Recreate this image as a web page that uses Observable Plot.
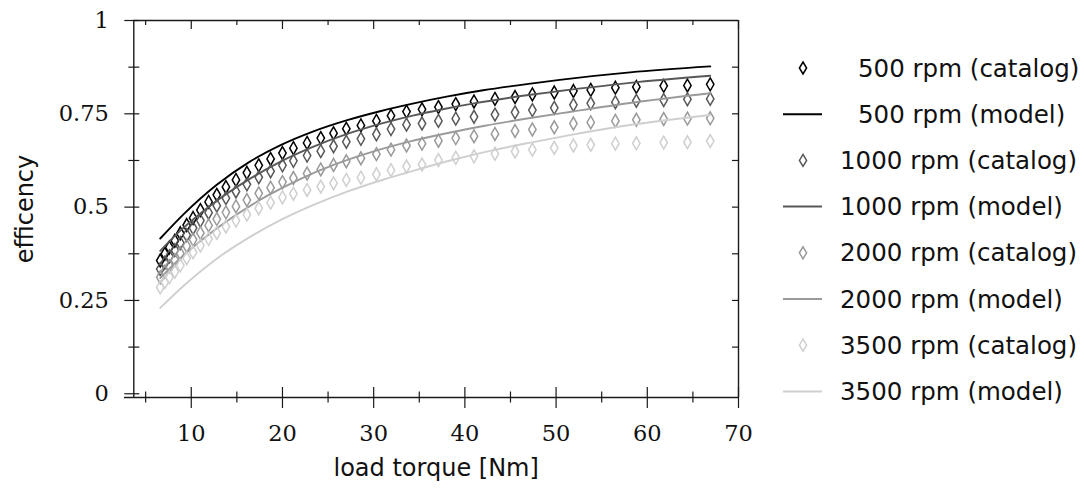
<!DOCTYPE html>
<html><head><meta charset="utf-8">
<script src="https://cdn.jsdelivr.net/npm/d3@7"></script>
<script src="https://cdn.jsdelivr.net/npm/@observablehq/plot@0.6"></script>
<style>
body{margin:0;background:#fff;}
#wrap{position:relative;width:1084px;height:488px;overflow:hidden;}
#chart{position:absolute;left:0;top:0;}
#legend{position:absolute;left:0;top:0;}
</style></head><body>
<div id="wrap"><div id="chart"></div><svg id="legend" width="1084" height="488"></svg></div>
<script>
// ---- data ----
const seriesNames = ["500 rpm", "1000 rpm", "2000 rpm", "3500 rpm"];
const seriesColors = ["#000000", "#585858", "#9a9a9a", "#cfcfcf"];

const catalogTorque = [6.6, 7.1, 7.6, 8.2, 8.8, 9.5, 10.2, 11.0, 11.9, 12.8, 13.8, 14.9, 16.1, 17.4, 18.7, 20.0, 21.2, 22.7, 24.2, 25.6, 27.0, 28.6, 30.3, 31.9, 33.6, 35.3, 37.1, 39.0, 41.0, 43.3, 45.5, 47.4, 49.8, 51.9, 53.8, 56.5, 58.8, 61.8, 64.4, 66.9];
const catalog500 = [0.357, 0.375, 0.392, 0.410, 0.430, 0.452, 0.471, 0.492, 0.514, 0.533, 0.554, 0.573, 0.592, 0.612, 0.629, 0.645, 0.658, 0.672, 0.685, 0.698, 0.710, 0.719, 0.731, 0.745, 0.756, 0.762, 0.768, 0.776, 0.783, 0.790, 0.795, 0.802, 0.807, 0.811, 0.814, 0.820, 0.822, 0.825, 0.826, 0.829];
const catalog1000 = [0.334, 0.351, 0.368, 0.385, 0.404, 0.425, 0.444, 0.464, 0.485, 0.504, 0.524, 0.542, 0.561, 0.580, 0.596, 0.612, 0.624, 0.638, 0.650, 0.663, 0.675, 0.683, 0.695, 0.709, 0.721, 0.724, 0.731, 0.737, 0.742, 0.748, 0.754, 0.760, 0.766, 0.774, 0.778, 0.781, 0.785, 0.787, 0.789, 0.790];
const catalog2000 = [0.312, 0.327, 0.342, 0.358, 0.376, 0.396, 0.413, 0.431, 0.451, 0.468, 0.486, 0.502, 0.519, 0.537, 0.552, 0.567, 0.578, 0.590, 0.601, 0.613, 0.623, 0.631, 0.642, 0.654, 0.665, 0.670, 0.678, 0.685, 0.690, 0.696, 0.704, 0.708, 0.714, 0.724, 0.727, 0.731, 0.734, 0.736, 0.737, 0.738];
const catalog3500 = [0.285, 0.299, 0.312, 0.327, 0.344, 0.363, 0.379, 0.397, 0.415, 0.431, 0.448, 0.464, 0.480, 0.497, 0.512, 0.526, 0.536, 0.546, 0.555, 0.564, 0.573, 0.579, 0.588, 0.599, 0.609, 0.614, 0.626, 0.632, 0.636, 0.643, 0.649, 0.654, 0.659, 0.665, 0.667, 0.670, 0.671, 0.673, 0.674, 0.677];

const model500Torque = [6.6, 9.2, 12.8, 16.3, 19.8, 23.4, 27.1, 30.7, 34.4, 38.0, 42.0, 47.2, 50.4, 58.1, 66.9];
const model500 = [0.416, 0.482, 0.560, 0.620, 0.666, 0.703, 0.733, 0.757, 0.778, 0.796, 0.813, 0.831, 0.841, 0.861, 0.877];
const model1000Torque = [6.6, 8.8, 10.2, 12.4, 16.1, 19.8, 23.4, 27.1, 30.7, 34.4, 37.3, 41.0, 47.2, 50.4, 58.1, 66.9];
const model1000 = [0.383, 0.437, 0.467, 0.510, 0.571, 0.622, 0.662, 0.696, 0.723, 0.746, 0.761, 0.778, 0.801, 0.811, 0.833, 0.852];
const model2000Torque = [6.6, 8.8, 11.0, 14.6, 18.3, 22.0, 25.6, 29.3, 34.0, 38.4, 42.2, 47.0, 51.5, 58.1, 66.9];
const model2000 = [0.310, 0.363, 0.409, 0.474, 0.530, 0.576, 0.613, 0.644, 0.676, 0.700, 0.718, 0.738, 0.755, 0.779, 0.805];
const model3500Torque = [6.6, 9.2, 12.8, 16.5, 20.1, 23.8, 27.4, 31.1, 34.7, 38.4, 43.0, 47.2, 51.5, 58.1, 66.9];
const model3500 = [0.230, 0.290, 0.362, 0.421, 0.469, 0.510, 0.544, 0.574, 0.600, 0.625, 0.652, 0.673, 0.693, 0.720, 0.747];

const xMajorTicks = [10, 20, 30, 40, 50, 60, 70];
const xMinorTicks = [5, 15, 25, 35, 45, 55, 65];
const yMajorTicks = [0, 0.25, 0.5, 0.75, 1];
const yMajorLabels = ["0", "0.25", "0.5", "0.75", "1"];
const yMinorTicks = [0.125, 0.375, 0.625, 0.875];
const xLabel = "load torque [Nm]";
const yLabel = "efficency";

// ---- tables ----
const catalogSeries = [catalog500, catalog1000, catalog2000, catalog3500];
const modelSeries = [[model500Torque, model500], [model1000Torque, model1000], [model2000Torque, model2000], [model3500Torque, model3500]];
const catalogTables = catalogSeries.map(vals => catalogTorque.map((t, i) => ({t, e: vals[i]})));
const modelTables = modelSeries.map(([ts, vals]) => ts.map((t, i) => ({t, e: vals[i]})));

// ---- layout ----
const W = 760, H = 488;
const pxL = 133.3, pxR = 738, pxT = 20, pxB = 397;
const X0 = 3.7, X1 = 70, Y0 = -0.01, Y1 = 1;
const ux = (X1 - X0) / (pxR - pxL);   // data units per px (x)
const uy = (Y1 - Y0) / (pxB - pxT);   // data units per px (y)
const axisColor = "#1a1a1a";
const serif = "DejaVu Serif";
const sans = "DejaVu Sans";

const marks = [];
// frame
marks.push(Plot.ruleX([X0, X1], {y1: Y0, y2: Y1, stroke: axisColor, strokeWidth: 1.4}));
marks.push(Plot.ruleY([Y1], {x1: X0, x2: X1, stroke: axisColor, strokeWidth: 1.4}));
marks.push(Plot.ruleY([Y0], {x1: X0 - 9.3 * ux, x2: X1, stroke: axisColor, strokeWidth: 1.4}));
// bottom ticks (crossing)
marks.push(Plot.ruleX(xMajorTicks, {y1: Y0 - 11 * uy, y2: Y0 + 10 * uy, stroke: axisColor, strokeWidth: 1.2}));
marks.push(Plot.ruleX(xMinorTicks, {y1: Y0 - 5.5 * uy, y2: Y0 + 5.5 * uy, stroke: axisColor, strokeWidth: 1.2}));
// top ticks (inward)
marks.push(Plot.ruleX(xMajorTicks, {y1: Y1, y2: Y1 - 9 * uy, stroke: axisColor, strokeWidth: 1.2}));
marks.push(Plot.ruleX(xMinorTicks, {y1: Y1, y2: Y1 - 5 * uy, stroke: axisColor, strokeWidth: 1.2}));
// left ticks
marks.push(Plot.ruleY(yMajorTicks, {x1: X0 - 9 * ux, x2: X0 + 6 * ux, stroke: axisColor, strokeWidth: 1.2}));
marks.push(Plot.ruleY(yMinorTicks, {x1: X0 - 5 * ux, x2: X0 + 6 * ux, stroke: axisColor, strokeWidth: 1.2}));
// right ticks
marks.push(Plot.ruleY(yMinorTicks.concat([0.25, 0.5, 0.75]), {x1: X1 - 6 * ux, x2: X1, stroke: axisColor, strokeWidth: 1.2}));
// tick labels
marks.push(Plot.text(xMajorTicks, {x: d => d, y: Y0, dy: 36, text: d => String(d), fontFamily: serif, fontSize: 22.5, fill: "#111"}));
marks.push(Plot.text(yMajorTicks, {x: X0, y: d => d, dx: -25, text: (d, i) => yMajorLabels[i], textAnchor: "end", fontFamily: serif, fontSize: 22.5, fill: "#111"}));
// axis labels
marks.push(Plot.text([xLabel], {x: (X0 + X1) / 2, y: Y0, dy: 71, text: d => d, fontFamily: sans, fontSize: 24, fill: "#111"}));
marks.push(Plot.text([yLabel], {x: X0, y: (Y0 + Y1) / 2, dx: -108, rotate: -90, text: d => d, fontFamily: sans, fontSize: 24, fill: "#111"}));

// data marks, in legend order
for (let s = 0; s < 4; s++) {
  marks.push(Plot.dot(catalogTables[s], {x: "t", y: "e", symbol: "diamond", r: 3.9, fill: "none", stroke: seriesColors[s], strokeWidth: 1.5}));
  marks.push(Plot.line(modelTables[s], {x: "t", y: "e", stroke: seriesColors[s], strokeWidth: 1.9, curve: "monotone-x"}));
}

const chart = Plot.plot({
  width: W, height: H,
  marginLeft: pxL, marginRight: W - pxR, marginTop: pxT, marginBottom: H - pxB,
  x: {domain: [X0, X1], axis: null},
  y: {domain: [Y0, Y1], axis: null},
  style: {background: "transparent", overflow: "visible"},
  marks
});
document.getElementById("chart").appendChild(chart);

// ---- legend ----
const lg = d3.select("#legend");
const rowY0 = 68, rowStep = 46.2;
for (let s = 0; s < 4; s++) {
  const textX = seriesNames[s].length < 8 ? 858 : 840;
  const yc = rowY0 + 2 * s * rowStep;
  lg.append("path")
    .attr("d", `M803,${yc - 6}L806.6,${yc}L803,${yc + 6}L799.4,${yc}Z`)
    .attr("fill", "none").attr("stroke", seriesColors[s]).attr("stroke-width", 1.5);
  lg.append("text").attr("x", textX).attr("y", yc).attr("dominant-baseline", "central")
    .attr("font-family", sans).attr("font-size", 24.5).attr("fill", "#111")
    .text(seriesNames[s] + " (catalog)");
  const yl = yc + rowStep;
  lg.append("line").attr("x1", 783).attr("x2", 822).attr("y1", yl).attr("y2", yl)
    .attr("stroke", seriesColors[s]).attr("stroke-width", 2);
  lg.append("text").attr("x", textX).attr("y", yl).attr("dominant-baseline", "central")
    .attr("font-family", sans).attr("font-size", 24.5).attr("fill", "#111")
    .text(seriesNames[s] + " (model)");
}
</script>
</body></html>
